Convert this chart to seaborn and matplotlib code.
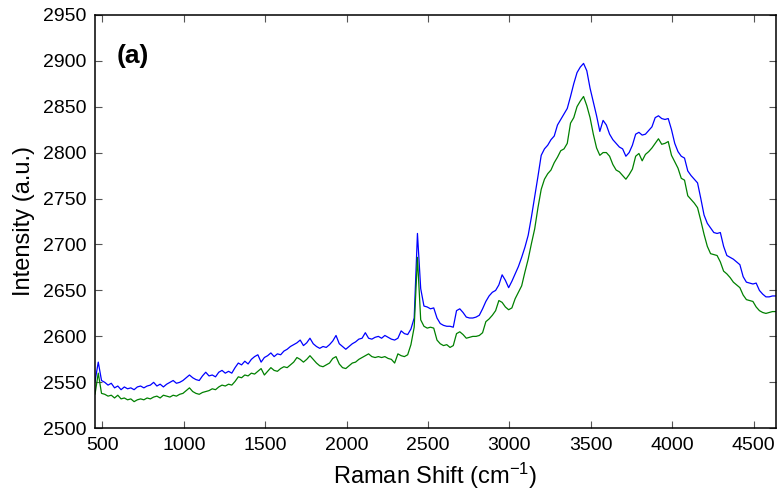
import numpy as np
import pandas as pd
import matplotlib
matplotlib.use("Agg")
import matplotlib.pyplot as plt
import seaborn as sns

# Raman shift axis (cm^-1), sampled every 20 cm^-1
raman_shift = np.arange(455, 4636, 20)

# Spectrum 1 (blue)
intensity_blue = [
    2551, 2572, 2552, 2550, 2547, 2549, 2544, 2546, 2542, 2545,
    2543, 2544, 2542, 2545, 2546, 2544, 2546, 2547, 2550, 2546,
    2548, 2545, 2548, 2550, 2552, 2549, 2550, 2552, 2555, 2558,
    2555, 2553, 2552, 2557, 2561, 2557, 2558, 2556, 2561, 2563,
    2560, 2562, 2560, 2566, 2571, 2569, 2573, 2570, 2575, 2578,
    2580, 2572, 2577, 2579, 2582, 2578, 2581, 2580, 2584, 2586,
    2589, 2591, 2593, 2596, 2590, 2593, 2598, 2592, 2589, 2587,
    2589, 2588, 2591, 2595, 2601, 2592, 2589, 2586, 2589, 2592,
    2594, 2597, 2598, 2604, 2598, 2597, 2599, 2600, 2598, 2601,
    2599, 2597, 2596, 2598, 2606, 2603, 2602, 2608, 2620, 2712,
    2652, 2633, 2632, 2630, 2631, 2620, 2614, 2612, 2611, 2611,
    2610, 2628, 2630, 2626, 2621, 2620, 2620, 2621, 2623, 2630,
    2638, 2644, 2648, 2650, 2656, 2667, 2661, 2653, 2660, 2668,
    2676, 2686, 2697, 2710, 2730, 2752, 2774, 2797, 2804, 2808,
    2814, 2818, 2830, 2836, 2842, 2848, 2861, 2875, 2887, 2893,
    2897, 2889, 2870, 2855, 2840, 2823, 2835, 2830, 2820, 2814,
    2810, 2806, 2804, 2796, 2800, 2808, 2820, 2822, 2819, 2820,
    2824, 2828, 2838, 2840, 2837, 2836, 2837, 2825, 2810, 2801,
    2796, 2794, 2780, 2775, 2771, 2767, 2750, 2732, 2723, 2718,
    2713, 2712, 2713, 2698, 2688, 2686, 2684, 2681, 2678, 2665,
    2659, 2658, 2657, 2658, 2650, 2646, 2643, 2643, 2644, 2644,
]

# Spectrum 2 (green)
intensity_green = [
    2537, 2560, 2538, 2537, 2535, 2536, 2533, 2536, 2532, 2533,
    2531, 2532, 2529, 2531, 2532, 2531, 2533, 2532, 2534, 2535,
    2533, 2536, 2535, 2534, 2536, 2535, 2537, 2538, 2541, 2544,
    2540, 2538, 2537, 2539, 2540, 2541, 2543, 2542, 2545, 2547,
    2546, 2548, 2547, 2551, 2556, 2555, 2558, 2557, 2560, 2559,
    2562, 2565, 2558, 2562, 2566, 2563, 2562, 2565, 2567, 2566,
    2569, 2572, 2577, 2575, 2572, 2575, 2579, 2575, 2571, 2568,
    2567, 2569, 2571, 2576, 2578, 2570, 2566, 2565, 2568, 2571,
    2572, 2575, 2577, 2579, 2581, 2578, 2577, 2578, 2577, 2578,
    2576, 2575, 2571, 2581, 2579, 2578, 2580, 2591, 2610, 2686,
    2618, 2611, 2609, 2610, 2609, 2596, 2592, 2590, 2591, 2588,
    2590, 2603, 2605, 2602, 2598, 2599, 2600, 2600, 2601, 2604,
    2616, 2619, 2623, 2628, 2639, 2637, 2632, 2629, 2631, 2641,
    2648, 2655, 2670, 2684, 2701, 2717, 2740, 2760, 2771, 2777,
    2781, 2789, 2795, 2802, 2804, 2810, 2832, 2838, 2850, 2856,
    2861, 2851, 2838, 2820, 2805, 2797, 2800, 2800, 2796, 2787,
    2781, 2779, 2775, 2771, 2776, 2782, 2796, 2799, 2791, 2798,
    2801, 2805, 2810, 2815, 2809, 2810, 2812, 2797, 2790, 2783,
    2772, 2770, 2753, 2749, 2745, 2740, 2726, 2711, 2698, 2690,
    2689, 2688, 2681, 2671, 2668, 2664, 2659, 2656, 2653, 2645,
    2640, 2639, 2638, 2632, 2628, 2626, 2625, 2626, 2627, 2627,
]

x_ticks = [500, 1000, 1500, 2000, 2500, 3000, 3500, 4000, 4500]
y_ticks = [2500, 2550, 2600, 2650, 2700, 2750, 2800, 2850, 2900, 2950]

sns.set_theme(style="white")
plt.rcParams["font.family"] = ["Liberation Sans", "DejaVu Sans"]
plt.rcParams["mathtext.fontset"] = "custom"
plt.rcParams["mathtext.rm"] = "Liberation Sans"
plt.rcParams["mathtext.it"] = "Liberation Sans:italic"

df = pd.DataFrame({
    "shift": np.concatenate([raman_shift, raman_shift]),
    "intensity": intensity_blue + intensity_green,
    "spectrum": ["blue"] * len(raman_shift) + ["green"] * len(raman_shift),
})

fig = plt.figure(figsize=(7.8, 5.03), dpi=100)
ax = fig.add_axes([0.1218, 0.1485, 0.8727, 0.8223])

sns.lineplot(data=df, x="shift", y="intensity", hue="spectrum",
             palette={"blue": "#0000ff", "green": "#008000"},
             estimator=None, sort=False, linewidth=0.9, legend=False, ax=ax)

ax.set_xlim(raman_shift[0], raman_shift[-1])
ax.set_ylim(2500, 2950)
ax.set_xticks(x_ticks)
ax.set_yticks(y_ticks)
ax.tick_params(axis="both", which="both", direction="in", length=5, width=0.8,
               color="#555555", labelsize=14, labelcolor="black",
               top=True, right=True, bottom=True, left=True, pad=6)
for s in ax.spines.values():
    s.set_color("black")
    s.set_linewidth(1.1)
    s.set_visible(True)

ax.set_xlabel("Raman Shift (cm$^{-1}$)", fontsize=17, labelpad=5, color="black")
ax.set_ylabel("Intensity (a.u.)", fontsize=17, labelpad=6, color="black")
ax.text(0.056, 0.9, "(a)", transform=ax.transAxes, fontsize=19,
        fontweight="bold", ha="center", va="center", color="black")

fig.savefig("out.png", dpi=100)
